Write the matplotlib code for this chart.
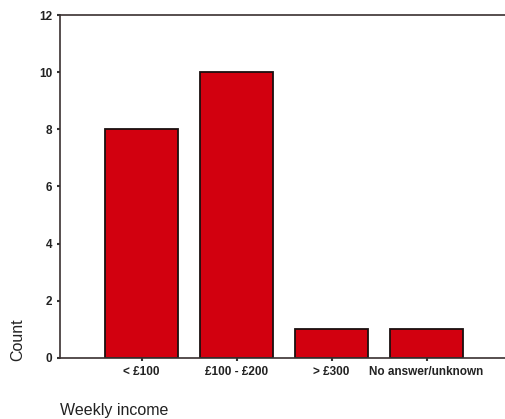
import matplotlib
matplotlib.use("Agg")
import matplotlib.pyplot as plt

plt.rcParams['font.family'] = ['Liberation Sans', 'DejaVu Sans']

categories = ["< £100", "£100 - £200", "> £300", "No answer/unknown"]
counts = [8, 10, 1, 1]
yticks = [0, 2, 4, 6, 8, 10, 12]

fig = plt.figure(figsize=(5.05, 4.19), dpi=100)
ax = fig.add_axes([0.1188, 0.1456, 0.8812, 0.8186])

x = list(range(len(categories)))
ax.bar(x, counts, width=0.77, color="#d2000f", edgecolor="#1a1010", linewidth=1.3, zorder=2)

ax.set_xlim(-0.858, 3.826)
ax.set_ylim(0, 12)
ax.set_yticks(yticks)
ax.set_yticklabels([str(t) for t in yticks], fontsize=8.5, fontweight="bold", color="#222222")
ax.set_xticks(x)
ax.set_xticklabels(categories, fontsize=8.5, fontweight="bold", color="#222222")
ax.tick_params(axis="both", direction="out", length=2.5, width=1.5, color="#333333", pad=3)

for side in ["left", "top", "bottom"]:
    ax.spines[side].set_color("#3a3030")
    ax.spines[side].set_linewidth(1.2)
ax.spines["right"].set_visible(False)

fig.text(0.036, 0.19, "Count", rotation=90, fontsize=11.5, ha="center", va="center", color="#222222")
fig.text(0.119, 0.021, "Weekly income", fontsize=11.5, ha="left", va="center", color="#222222")

fig.savefig("out.png", dpi=100)
